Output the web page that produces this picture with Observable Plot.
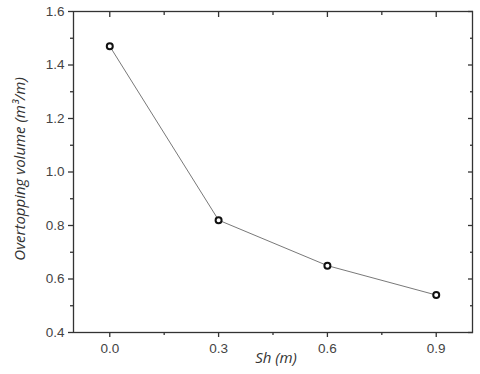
<!DOCTYPE html>
<html>
<head>
<meta charset="utf-8">
<script src="https://cdn.jsdelivr.net/npm/d3@7"></script>
<script src="https://cdn.jsdelivr.net/npm/@observablehq/plot@0.6"></script>
<style>
body { margin: 0; background: #fff; }
#chart svg { display: block; }
</style>
</head>
<body>
<div id="chart"></div>
<script>
const sh = [0.0, 0.3, 0.6, 0.9];
const volume = [1.47, 0.82, 0.65, 0.54];
const xTicks = [0.0, 0.3, 0.6, 0.9];
const xMinor = [0.15, 0.45, 0.75];
const yTicks = [0.4, 0.6, 0.8, 1.0, 1.2, 1.4, 1.6];
const yMinor = [0.5, 0.7, 0.9, 1.1, 1.3, 1.5];
const xLabel = "Sh (m)";
const yLabel = "Overtopping volume (m\u00B3/m)";

const data = sh.map((x, i) => ({x, y: volume[i]}));
const tickColor = "#333";
const labelColor = "#444";

const chart = Plot.plot({
  width: 480,
  height: 374,
  marginLeft: 73,
  marginRight: 8,
  marginTop: 11,
  marginBottom: 42,
  style: {fontFamily: "'Liberation Sans', Arial, sans-serif", fontSize: "13px", background: "#fff"},
  x: {domain: [-0.1, 1.0]},
  y: {domain: [0.4, 1.6]},
  marks: [
    Plot.frame({stroke: tickColor, strokeWidth: 1.3}),
    Plot.axisX({ticks: xTicks, tickSize: 5, tickFormat: d3.format(".1f"), tickPadding: 6, label: null, stroke: tickColor, strokeWidth: 1.3, fill: labelColor}),
    Plot.axisX({ticks: xMinor, tickSize: 3, text: null, label: null, stroke: tickColor, strokeWidth: 1.3}),
    Plot.axisX({anchor: "top", ticks: xTicks, tickSize: -5, text: null, label: null, stroke: tickColor, strokeWidth: 1.3}),
    Plot.axisX({anchor: "top", ticks: xMinor, tickSize: -3, text: null, label: null, stroke: tickColor, strokeWidth: 1.3}),
    Plot.axisY({ticks: yTicks, tickSize: 5, tickFormat: d3.format(".1f"), tickPadding: 4, label: null, stroke: tickColor, strokeWidth: 1.3, fill: labelColor}),
    Plot.axisY({ticks: yMinor, tickSize: 3, text: null, label: null, stroke: tickColor, strokeWidth: 1.3}),
    Plot.axisY({anchor: "right", ticks: yTicks, tickSize: -5, text: null, label: null, stroke: tickColor, strokeWidth: 1.3}),
    Plot.axisY({anchor: "right", ticks: yMinor, tickSize: -3, text: null, label: null, stroke: tickColor, strokeWidth: 1.3}),
    Plot.line(data, {x: "x", y: "y", stroke: "#555", strokeWidth: 0.8}),
    Plot.dot(data, {x: "x", y: "y", r: 3, stroke: "#111", strokeWidth: 2, fill: "#fff"}),
    Plot.text([xLabel], {frameAnchor: "bottom", dy: 30, dx: 3, text: d => d, fontStyle: "italic", fontSize: 15, fill: "#333", fontFamily: "'Open Sans', sans-serif"}),
    Plot.text([yLabel], {frameAnchor: "left", textAnchor: "middle", dx: -53, dy: -3, rotate: -90, text: d => d, fontStyle: "italic", fontSize: 15, fill: "#333", fontFamily: "'Open Sans', sans-serif"})
  ]
});
d3.select(chart).selectAll('g[aria-label$="tick label"]').attr("font-size", 13.5).style("font-size", "13.5px");
document.getElementById("chart").appendChild(chart);
</script>
</body>
</html>
